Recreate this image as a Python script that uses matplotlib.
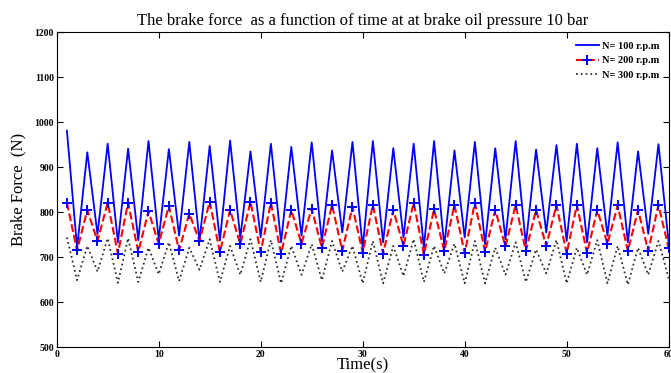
import numpy as np
import matplotlib
matplotlib.use('Agg')
import matplotlib.pyplot as plt

plt.rcParams['font.family'] = ['Liberation Serif', 'DejaVu Serif']

# time (s)
time_s = np.arange(1, 61)

# brake force (N) at N = 100 r.p.m
force_100 = [981, 721, 933, 751, 952, 733, 941, 738, 958, 740,
             940, 748, 956, 736, 947, 737, 959, 743, 935, 744,
             952, 733, 945, 748, 955, 736, 937, 755, 956, 721,
             958, 733, 942, 744, 952, 721, 958, 725, 937, 744,
             956, 729, 942, 740, 958, 729, 939, 755, 949, 736,
             952, 733, 942, 748, 955, 733, 935, 752, 951, 733]

# brake force (N) at N = 200 r.p.m
force_200 = [821, 715, 805, 736, 821, 708, 821, 712, 802, 730,
             814, 715, 797, 736, 823, 711, 805, 729, 823, 712,
             821, 708, 805, 730, 808, 721, 816, 714, 812, 710,
             816, 708, 805, 725, 821, 706, 806, 714, 816, 709,
             821, 712, 805, 724, 816, 714, 805, 725, 816, 708,
             816, 709, 805, 730, 815, 714, 805, 714, 816, 720]

# brake force (N) at N = 300 r.p.m
force_300 = [744, 649, 725, 668, 742, 643, 742, 645, 721, 662,
             733, 647, 721, 672, 740, 645, 725, 661, 740, 645,
             738, 642, 725, 661, 729, 649, 736, 668, 725, 642,
             736, 642, 725, 658, 740, 645, 725, 664, 730, 642,
             736, 642, 721, 661, 733, 645, 717, 664, 738, 642,
             721, 661, 738, 642, 725, 639, 721, 661, 736, 653]

fig = plt.figure(figsize=(6.71, 3.73), dpi=100)
ax = fig.add_axes([0.0845, 0.069, 0.912, 0.845])

ax.plot(time_s, force_100, color='b', linestyle='-', linewidth=1.3, label='N= 100 r.p.m')
ax.plot(time_s, force_200, color='r', linestyle='--', linewidth=1.5,
        marker='+', markersize=6.5, markeredgewidth=1.4, markeredgecolor='b',
        label='N= 200 r.p.m')
ax.plot(time_s, force_300, color='#333333', linestyle=':', linewidth=1.3, label='N= 300 r.p.m')

ax.set_xlim(0, 60)
ax.set_ylim(500, 1200)
ax.set_xticks(np.arange(0, 61, 10))
ax.set_yticks(np.arange(500, 1201, 100))
ax.tick_params(direction='in', top=True, right=True, length=4, labelsize=7, pad=2)
for lab in ax.get_xticklabels() + ax.get_yticklabels():
    lab.set_fontweight('bold')

ax.set_title('The brake force  as a function of time at at brake oil pressure 10 bar',
             fontsize=12, pad=5)
ax.set_xlabel('Time(s)', fontsize=12, labelpad=-1)
ax.set_ylabel('Brake Force  (N)', fontsize=12, labelpad=6)

leg = ax.legend(loc='upper right', frameon=False, fontsize=7.5, handlelength=2.2,
                handletextpad=0.3, labelspacing=0.5, borderaxespad=0.5)
for txt in leg.get_texts():
    txt.set_fontweight('bold')

fig.savefig('out.png', dpi=100)
